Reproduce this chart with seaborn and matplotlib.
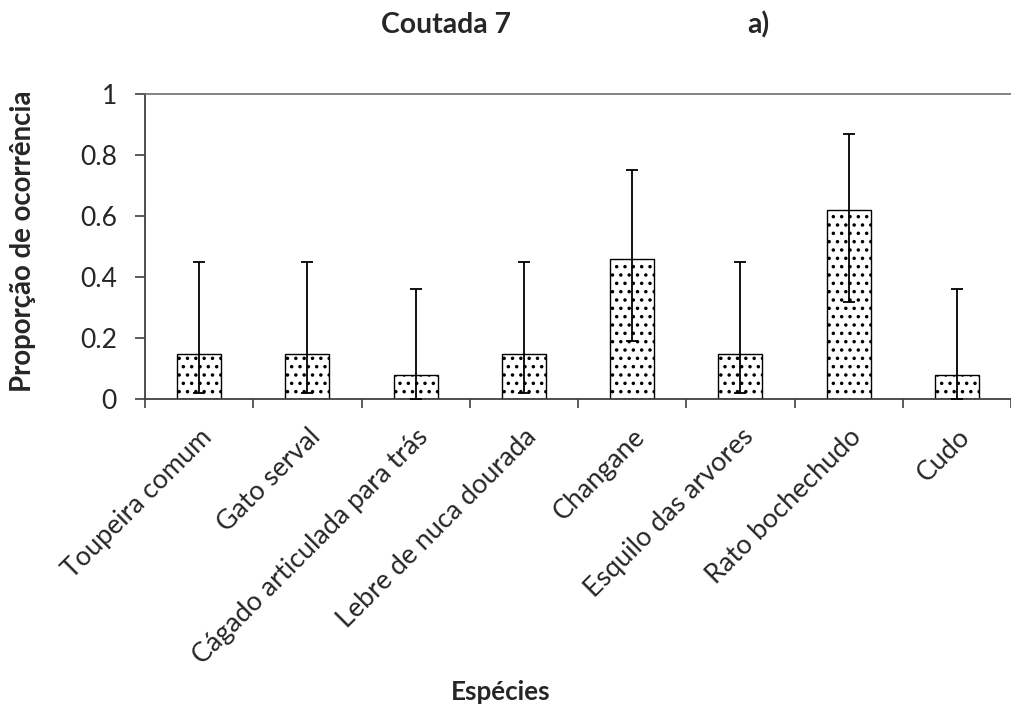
import matplotlib
matplotlib.use("Agg")
import matplotlib.pyplot as plt
import matplotlib.transforms as mtransforms
import seaborn as sns
import numpy as np
import pandas as pd

species = ["Toupeira comum", "Gato serval", "Cágado articulada para trás",
           "Lebre de nuca dourada", "Changane", "Esquilo das arvores",
           "Rato bochechudo", "Cudo"]
proportion = [0.15, 0.15, 0.08, 0.15, 0.46, 0.15, 0.62, 0.08]
lower_ci = [0.02, 0.02, 0.0, 0.02, 0.19, 0.02, 0.32, 0.0]
upper_ci = [0.45, 0.45, 0.36, 0.45, 0.75, 0.45, 0.87, 0.36]
yticks = [0, 0.2, 0.4, 0.6, 0.8, 1]
ytick_labels = ["0", "0.2", "0.4", "0.6", "0.8", "1"]

sns.set_style("white")
plt.rcParams['font.family'] = ['Lato', 'DejaVu Sans']
plt.rcParams['hatch.linewidth'] = 1.3
plt.rcParams['hatch.color'] = 'black'

W, H = 1011, 711
fig = plt.figure(figsize=(W / 100, H / 100), dpi=100)
renderer = fig.canvas.get_renderer()


def fit_size(text, target_px, weight="normal", ref=20):
    t = fig.text(0, 0, text, fontsize=ref, fontweight=weight)
    w = t.get_window_extent(renderer).width
    t.remove()
    return ref * target_px / w


fs_title = fit_size("Coutada 7", 130, "bold")
fs_xlab = fit_size("Espécies", 100, "bold")
fs_ylab = fit_size("Proporção de ocorrência", 302, "bold")
fs_xtick = fit_size("Toupeira comum", 200)
fs_ytick = fit_size("0.8", 37)

df = pd.DataFrame({"species": species, "proportion": proportion})

ax = fig.add_axes([145 / W, 1 - 399.3 / H, 1 - 145 / W, (399.3 - 94) / H])

sns.barplot(data=df, x="species", y="proportion", color="white",
            edgecolor="black", linewidth=1.0, width=0.405, errorbar=None,
            ax=ax, saturation=1)
for p in ax.patches:
    p.set_hatch("..")

x = np.arange(len(species))
vals = np.array(proportion)
yerr = np.vstack([vals - np.array(lower_ci), np.array(upper_ci) - vals])
ax.errorbar(x, vals, yerr=yerr, fmt="none", ecolor="black", elinewidth=1.3,
            capsize=4.3, capthick=1.3, zorder=5)

ax.set_xlim(-0.5, len(species) - 0.5)
ax.set_ylim(0, 1)
ax.set_yticks(yticks)
ax.set_yticklabels(ytick_labels, fontsize=fs_ytick)

ax.set_xticks(np.arange(len(species) + 1) - 0.5)
ax.set_xticklabels([])
ax.set_xticks(x, minor=True)
ax.set_xticklabels(species, minor=True, rotation=45, ha="right",
                   rotation_mode="anchor", fontsize=fs_xtick)
shift = mtransforms.ScaledTranslation(-7 / 100, 0, fig.dpi_scale_trans)
for lab in ax.get_xticklabels(minor=True):
    lab.set_transform(lab.get_transform() + shift)
ax.tick_params(axis="x", which="major", direction="out", length=6.5,
               width=1.2, color="#404040", bottom=True)
ax.tick_params(axis="x", which="minor", length=0, pad=18, bottom=True)
ax.tick_params(axis="y", direction="out", length=7.2, width=1.2,
               color="#404040", left=True, pad=13)

for s in ["left", "bottom"]:
    ax.spines[s].set_color("#404040")
    ax.spines[s].set_linewidth(1.3)
ax.spines["top"].set_color("#6e6e6e")
ax.spines["top"].set_linewidth(1.2)
ax.spines["right"].set_visible(False)

ax.set_xlabel("Espécies", fontsize=fs_xlab, fontweight="bold")
ax.xaxis.set_label_coords(501 / W, 1 - 700 / H, transform=fig.transFigure)
ax.xaxis.label.set_va("baseline")
ax.xaxis.label.set_ha("center")

ax.set_ylabel("Proporção de ocorrência", fontsize=fs_ylab, fontweight="bold")
ax.yaxis.set_label_coords(23 / W, 1 - 241 / H, transform=fig.transFigure)
ax.yaxis.label.set_va("center")
ax.yaxis.label.set_ha("center")

fig.text(446 / W, 1 - 33 / H, "Coutada 7", ha="center", va="baseline",
         fontsize=fs_title, fontweight="bold")
fig.text(758 / W, 1 - 33 / H, "a)", ha="center", va="baseline",
         fontsize=fs_title, fontweight="bold")

fig.savefig("out.png", dpi=100)
